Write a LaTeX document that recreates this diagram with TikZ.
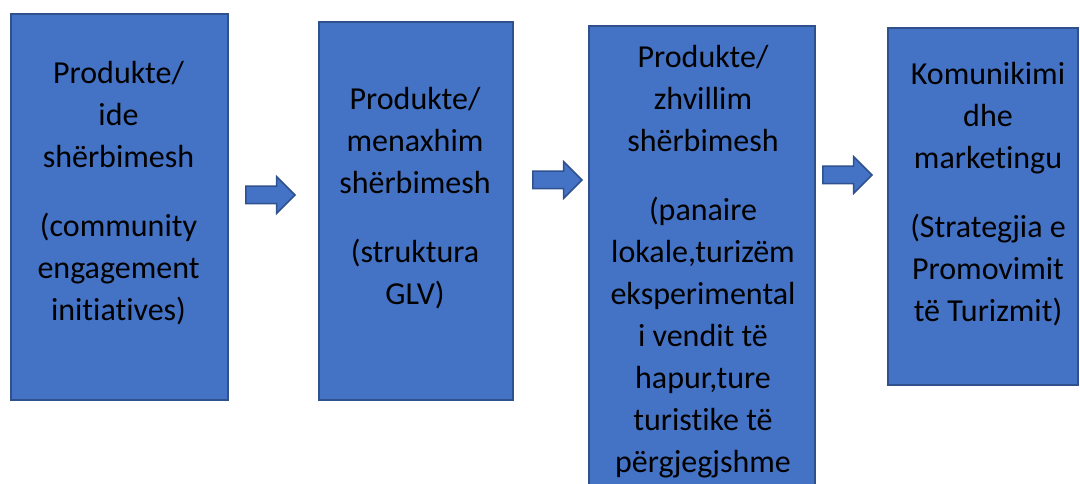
\documentclass[tikz,border=0pt]{standalone}
\usepackage{fontspec}
\setmainfont{Carlito}[Ligatures=NoCommon]
\usetikzlibrary{shapes.arrows}
\definecolor{boxfill}{HTML}{4472C4}
\definecolor{boxline}{HTML}{2F528F}
\begin{document}
\begin{tikzpicture}[x=1pt,y=-1pt,
  box/.style={draw=boxline, line width=2pt, fill=boxfill, inner sep=0pt, anchor=north west},
  lbl/.style={align=center, font=\fontsize{32}{42}\selectfont, inner sep=0pt, anchor=north, text=black},
  blockarrow/.style={single arrow, draw=boxline, line width=1.5pt, fill=boxfill,
    inner xsep=0pt, inner ysep=8pt, text height=0pt, text depth=0pt,
    minimum width=35pt, minimum height=49pt, single arrow head extend=9.5pt,
    single arrow tip angle=90, anchor=tip}]
\useasboundingbox (0,0) rectangle (1080,484);
\clip (0,0) rectangle (1080,484);
% boxes
\node[box, minimum width=217pt, minimum height=386pt] (b1) at (10,13) {};
\node[box, minimum width=194pt, minimum height=378pt] (b2) at (318,21) {};
\node[box, minimum width=226pt, minimum height=480pt] (b3) at (588,25) {};
\node[box, minimum width=190pt, minimum height=357pt] (b4) at (887,27) {};
% labels
\node[lbl] (t1) at (118.5,53.6) {\strut Produkte/\\ide\\shërbimesh\\[27pt](community\\engagement\\initiatives)};
\node[lbl] (t2) at (415,79.6) {\strut Produkte/\\menaxhim\\shërbimesh\\[27pt](struktura\\GLV)};
\node[lbl] (t3) at (703,37.6) {\strut Produkte/\\zhvillim\\shërbimesh\\[27pt](panaire\\lokale,turizëm\\eksperimental\\i vendit të\\hapur,ture\\turistike të\\përgjegjshme};
\node[lbl] (t4) at (988,54.6) {\strut Komunikimi\\dhe\\marketingu\\[27pt](Strategjia e\\Promovimit\\të Turizmit)};
% block arrows between the boxes
\node[blockarrow] (a1) at (296,195) {};
\node[blockarrow] (a2) at (583,180) {};
\node[blockarrow] (a3) at (873,175) {};
\end{tikzpicture}
\end{document}
